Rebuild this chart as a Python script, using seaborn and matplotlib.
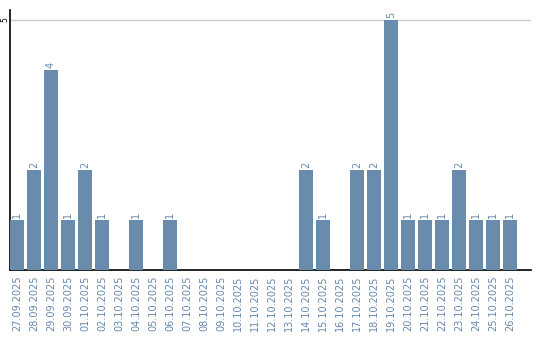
import matplotlib
matplotlib.use("Agg")
import matplotlib.pyplot as plt
import seaborn as sns
import pandas as pd

dates = ["27.09.2025", "28.09.2025", "29.09.2025", "30.09.2025", "01.10.2025",
         "02.10.2025", "03.10.2025", "04.10.2025", "05.10.2025", "06.10.2025",
         "07.10.2025", "08.10.2025", "09.10.2025", "10.10.2025", "11.10.2025",
         "12.10.2025", "13.10.2025", "14.10.2025", "15.10.2025", "16.10.2025",
         "17.10.2025", "18.10.2025", "19.10.2025", "20.10.2025", "21.10.2025",
         "22.10.2025", "23.10.2025", "24.10.2025", "25.10.2025", "26.10.2025"]
counts = [1, 2, 4, 1, 2, 1, 0, 1, 0, 1, 0, 0, 0, 0, 0, 0, 0, 2, 1, 0,
          2, 2, 5, 1, 1, 1, 2, 1, 1, 1]

sns.set_theme(style="white")
plt.rcParams['font.family'] = ['DejaVu Sans']

bar_color = "#6a8cac"
text_color = "#6688ad"

df = pd.DataFrame({"date": dates, "count": counts})
fig = plt.figure(figsize=(5.4, 3.4), dpi=100)
ax = fig.add_axes([10/540, 70/340, 521/540, 260/340])
sns.barplot(data=df, x="date", y="count", color=bar_color, width=0.82,
            saturation=1, linewidth=0, ax=ax, zorder=3)

ax.set_ylim(0, 5.2)
ax.set_xlim(-0.41, 30.24)
ax.set_yticks([5])
ax.set_yticklabels(["5"], rotation=90, fontsize=5.5, color="black", va="center")
ax.yaxis.grid(True, color="#cccccc", linewidth=1, zorder=0)
ax.tick_params(axis="y", length=0, pad=0.5)
ax.tick_params(axis="x", length=0, pad=4)
ax.set_xticks(range(len(dates)))
ax.set_xticklabels(dates, rotation=90, fontsize=7, color=text_color)
ax.set_xlabel("")
ax.set_ylabel("")
for s in ["top", "right"]:
    ax.spines[s].set_visible(False)
for s in ["left", "bottom"]:
    ax.spines[s].set_color("black")
    ax.spines[s].set_linewidth(1.2)

for i, v in enumerate(counts):
    if v > 0:
        ax.text(i, v + 0.04, str(v), rotation=90, ha="center", va="bottom",
                fontsize=7, color=text_color)

fig.savefig("out.png", dpi=100)
